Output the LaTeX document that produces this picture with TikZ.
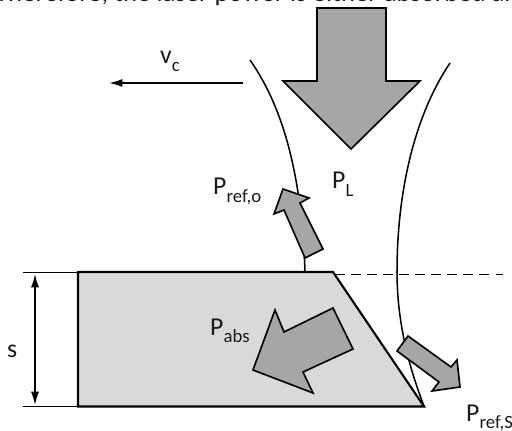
\documentclass[tikz,border=0pt]{standalone}
\usepackage{fontspec}
\setmainfont{Carlito}
\usepackage{xcolor}
\definecolor{laserGray}{HTML}{A6A6A6}
\definecolor{workGray}{HTML}{D9D9D9}
\definecolor{labelBlack}{HTML}{1A1A1A}
\usetikzlibrary{arrows.meta}
\newcommand{\lowidx}[1]{\raisebox{-0.3em}{\fontsize{16}{18}\selectfont #1}}

\begin{document}
\begin{tikzpicture}[x=0.03cm, y=-0.03cm,
    every node/.style={font=\fontsize{22}{26}\selectfont, text=labelBlack, inner sep=0pt, anchor=base west},
    powerarrow/.style={draw=black, fill=laserGray, line width=1.4pt, line join=miter},
    beamline/.style={black, line width=1.3pt},
    dimline/.style={black, line width=0.8pt}]
  \useasboundingbox (0,0) rectangle (512,431);
  \clip (0,0) rectangle (512,431);

  % Sentence cut off by the top edge
  \node[font=\fontsize{22.8}{26}\selectfont] (sentence) at (-5,1.5) {Therefore, the laser power is either absorbed and};

  % Beam edges
  \draw[beamline] (250,60) .. controls (285,110) and (302,180) .. (305,272);
  \draw[beamline] (450,63) .. controls (415,115) and (397,190) .. (397,272)
                  .. controls (397,320) and (408,365) .. (424,406);

  % Workpiece
  \draw[fill=workGray, line width=1.8pt, line join=miter] (78,272) -- (333,272) -- (424,406.5) -- (78,406.5) -- cycle;
  \draw[dashed, dash pattern=on 8.5pt off 5.2pt, line width=1.3pt] (335,274.5) -- (503,274.5);

  % Power arrows
  \draw[powerarrow] (317,8) -- (386,8) -- (386,81) -- (420,81) -- (351,149) -- (283,81) -- (317,81) -- cycle;
  \draw[powerarrow] (283,189) -- (309,198) -- (300,203) -- (323,249) -- (305,258) -- (284,210) -- (274,214) -- cycle;
  \draw[powerarrow] (253,370) -- (275,310) -- (284,332) -- (333,308) -- (353,349) -- (303,372) -- (313,393) -- cycle;
  \draw[powerarrow] (408,336) -- (451,367) -- (457,360) -- (460,387) -- (432,391) -- (439,382) -- (397,351) -- cycle;

  % Feed direction
  \coordinate (feedStart) at (243,83);
  \coordinate (feedEnd) at (109,83);
  \draw[-{Latex[length=4mm, width=2.4mm]}, line width=1.4pt] (feedStart) -- (feedEnd);

  % Sheet thickness
  \coordinate (sheetTop) at (23,272);
  \coordinate (sheetBottom) at (23,406.5);
  \coordinate (topEdge) at (78,272);
  \coordinate (bottomEdge) at (78,406.5);
  \draw[dimline] (sheetTop) -- (topEdge);
  \draw[dimline] (sheetBottom) -- (bottomEdge);
  \draw[{Latex[length=4mm, width=2.4mm]}-{Latex[length=4mm, width=2.4mm]}, line width=1.2pt] (35,274) -- (35,405);

  % Labels
  \node (vc) at (160,64) {v\lowidx{c}};
  \node (pl) at (332,189) {P\lowidx{L}};
  \node (prefo) at (213,195) {P\lowidx{ref,o}};
  \node (pabs) at (210,335) {P\lowidx{abs}};
  \node (prefs) at (466,421) {P\lowidx{ref,S}};
  \node (thick) at (7,357) {s};
\end{tikzpicture}
\end{document}
